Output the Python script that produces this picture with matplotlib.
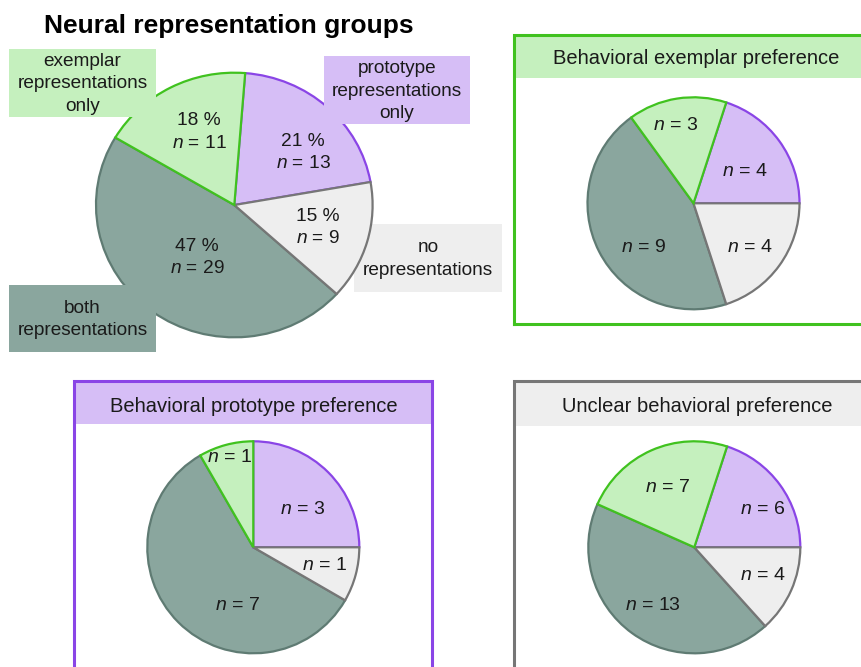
import matplotlib
matplotlib.use("Agg")
import matplotlib.pyplot as plt
from matplotlib.patches import Rectangle

plt.rcParams["font.family"] = ["Liberation Sans", "DejaVu Sans"]
plt.rcParams["mathtext.fontset"] = "custom"
plt.rcParams["mathtext.rm"] = "Liberation Sans"
plt.rcParams["mathtext.it"] = "Liberation Sans:italic"

# ---- data -------------------------------------------------------------
groups = ["prototype", "exemplar", "both", "none"]
group_labels = ["prototype\nrepresentations\nonly",
                "exemplar\nrepresentations\nonly",
                "both\nrepresentations",
                "no\nrepresentations"]
neural_counts = [13, 11, 29, 9]

panel_titles = ["Behavioral exemplar preference",
                "Behavioral prototype preference",
                "Unclear behavioral preference"]
exemplar_pref_counts = [4, 3, 9, 4]
prototype_pref_counts = [3, 1, 7, 1]
unclear_pref_counts = [6, 7, 13, 4]

# ---- styling ----------------------------------------------------------
W, H = 862, 667
fills = {"prototype": "#d6bef6", "exemplar": "#c5f0be",
         "both": "#8aa69e", "none": "#eeeeee"}
edges = {"prototype": "#8a45e6", "exemplar": "#40c21f",
         "both": "#5f7b73", "none": "#767676"}
layer = {"both": 1, "prototype": 2, "none": 3, "exemplar": 4}

fig = plt.figure(figsize=(W / 100, H / 100), dpi=100)
base = fig.add_axes([0, 0, 1, 1])
base.set_xlim(0, W)
base.set_ylim(H, 0)
base.axis("off")


def px_text(x, y, s, **kw):
    kw.setdefault("ha", "center")
    kw.setdefault("va", "center")
    kw.setdefault("fontsize", 13.8)
    kw.setdefault("color", "#1a1a1a")
    return fig.text(x, y, s, transform=base.transData, **kw)


def draw_pie(counts, cx, cy, rx, ry, startangle):
    ax = fig.add_axes([(cx - rx) / W, 1 - (cy + ry) / H, 2 * rx / W, 2 * ry / H])
    wedges, _ = ax.pie(counts, colors=[fills[g] for g in groups],
                       startangle=startangle, counterclock=True,
                       wedgeprops=dict(linewidth=1.6))
    for w, g in zip(wedges, groups):
        w.set_edgecolor(edges[g])
        w.set_zorder(layer[g])
        w.set_clip_on(False)
    ax.set_xlim(-1, 1)
    ax.set_ylim(-1, 1)
    ax.set_aspect("auto")
    ax.axis("off")
    return ax


# ---- panel frames -----------------------------------------------------
def panel(x0, y0, x1, y1, header_h, key, title, title_x, title_y):
    base.add_patch(Rectangle((x0, y0), x1 - x0, header_h,
                             facecolor=fills[key], edgecolor="none", zorder=1))
    base.plot([x0, x0, x1, x1], [y1, y0, y0, y1], color=edges[key],
              lw=2.2, zorder=2, solid_joinstyle="miter", clip_on=False)
    if y1 < H:
        base.plot([x0, x1], [y1, y1], color=edges[key], lw=2.2, zorder=2)
    px_text(title_x, title_y, title, fontsize=14.5)


panel(514, 35, 880, 324, 43, "exemplar", panel_titles[0], 696, 58)
panel(74, 381, 432, 690, 43, "prototype", panel_titles[1], 254, 406)
panel(514, 381, 880, 690, 45, "none", panel_titles[2], 697.5, 407)

# ---- main pie ---------------------------------------------------------
total = sum(neural_counts)
draw_pie(neural_counts, 234.3, 205, 138.3, 132.3, 10)

main_pos = {"prototype": (303, 152.5), "exemplar": (199, 132),
            "both": (197, 257.5), "none": (318, 227.5)}
for g, n in zip(groups, neural_counts):
    pct = round(100 * n / total)
    x, y = main_pos[g]
    px_text(x, y, f"{pct} %\n$n$ = {n}", linespacing=1.45)

# label boxes around the main pie
label_boxes = {"exemplar": (9, 49, 155.7, 116.7),
               "prototype": (323.7, 56, 470, 124),
               "both": (9, 285, 155.7, 351.7),
               "none": (354.3, 224, 501.7, 291.7)}
for g, s in zip(groups, group_labels):
    x0, y0, x1, y1 = label_boxes[g]
    rect = Rectangle((x0, y0), x1 - x0, y1 - y0, facecolor=fills[g],
                     edgecolor="none", transform=base.transData)
    if g == "none":
        base.add_patch(rect)
    else:
        fig.add_artist(rect)
    px_text((x0 + x1) / 2, (y0 + y1) / 2 + 1, s, linespacing=1.42,
            fontsize=13.7)

px_text(229, 33.5, "Neural representation groups", fontsize=19,
        fontweight="bold", va="baseline", color="black")

# ---- small pies -------------------------------------------------------
small = [
    (exemplar_pref_counts, (693.5, 203.3),
     {"prototype": (745, 172), "exemplar": (676, 125),
      "both": (643, 247), "none": (750, 247)}),
    (prototype_pref_counts, (253.3, 547.3),
     {"prototype": (303, 510), "exemplar": (229.5, 458),
      "both": (237, 605), "none": (324, 565)}),
    (unclear_pref_counts, (694.3, 547.3),
     {"prototype": (763, 510), "exemplar": (667, 487),
      "both": (653, 605), "none": (763, 576)}),
]
for counts, (cx, cy), pos in small:
    draw_pie(counts, cx, cy, 106, 106, 0)
    for g, n in zip(groups, counts):
        x, y = pos[g]
        px_text(x, y, f"$n$ = {n}", fontsize=14)

fig.savefig("out.png", dpi=100, facecolor="white")
